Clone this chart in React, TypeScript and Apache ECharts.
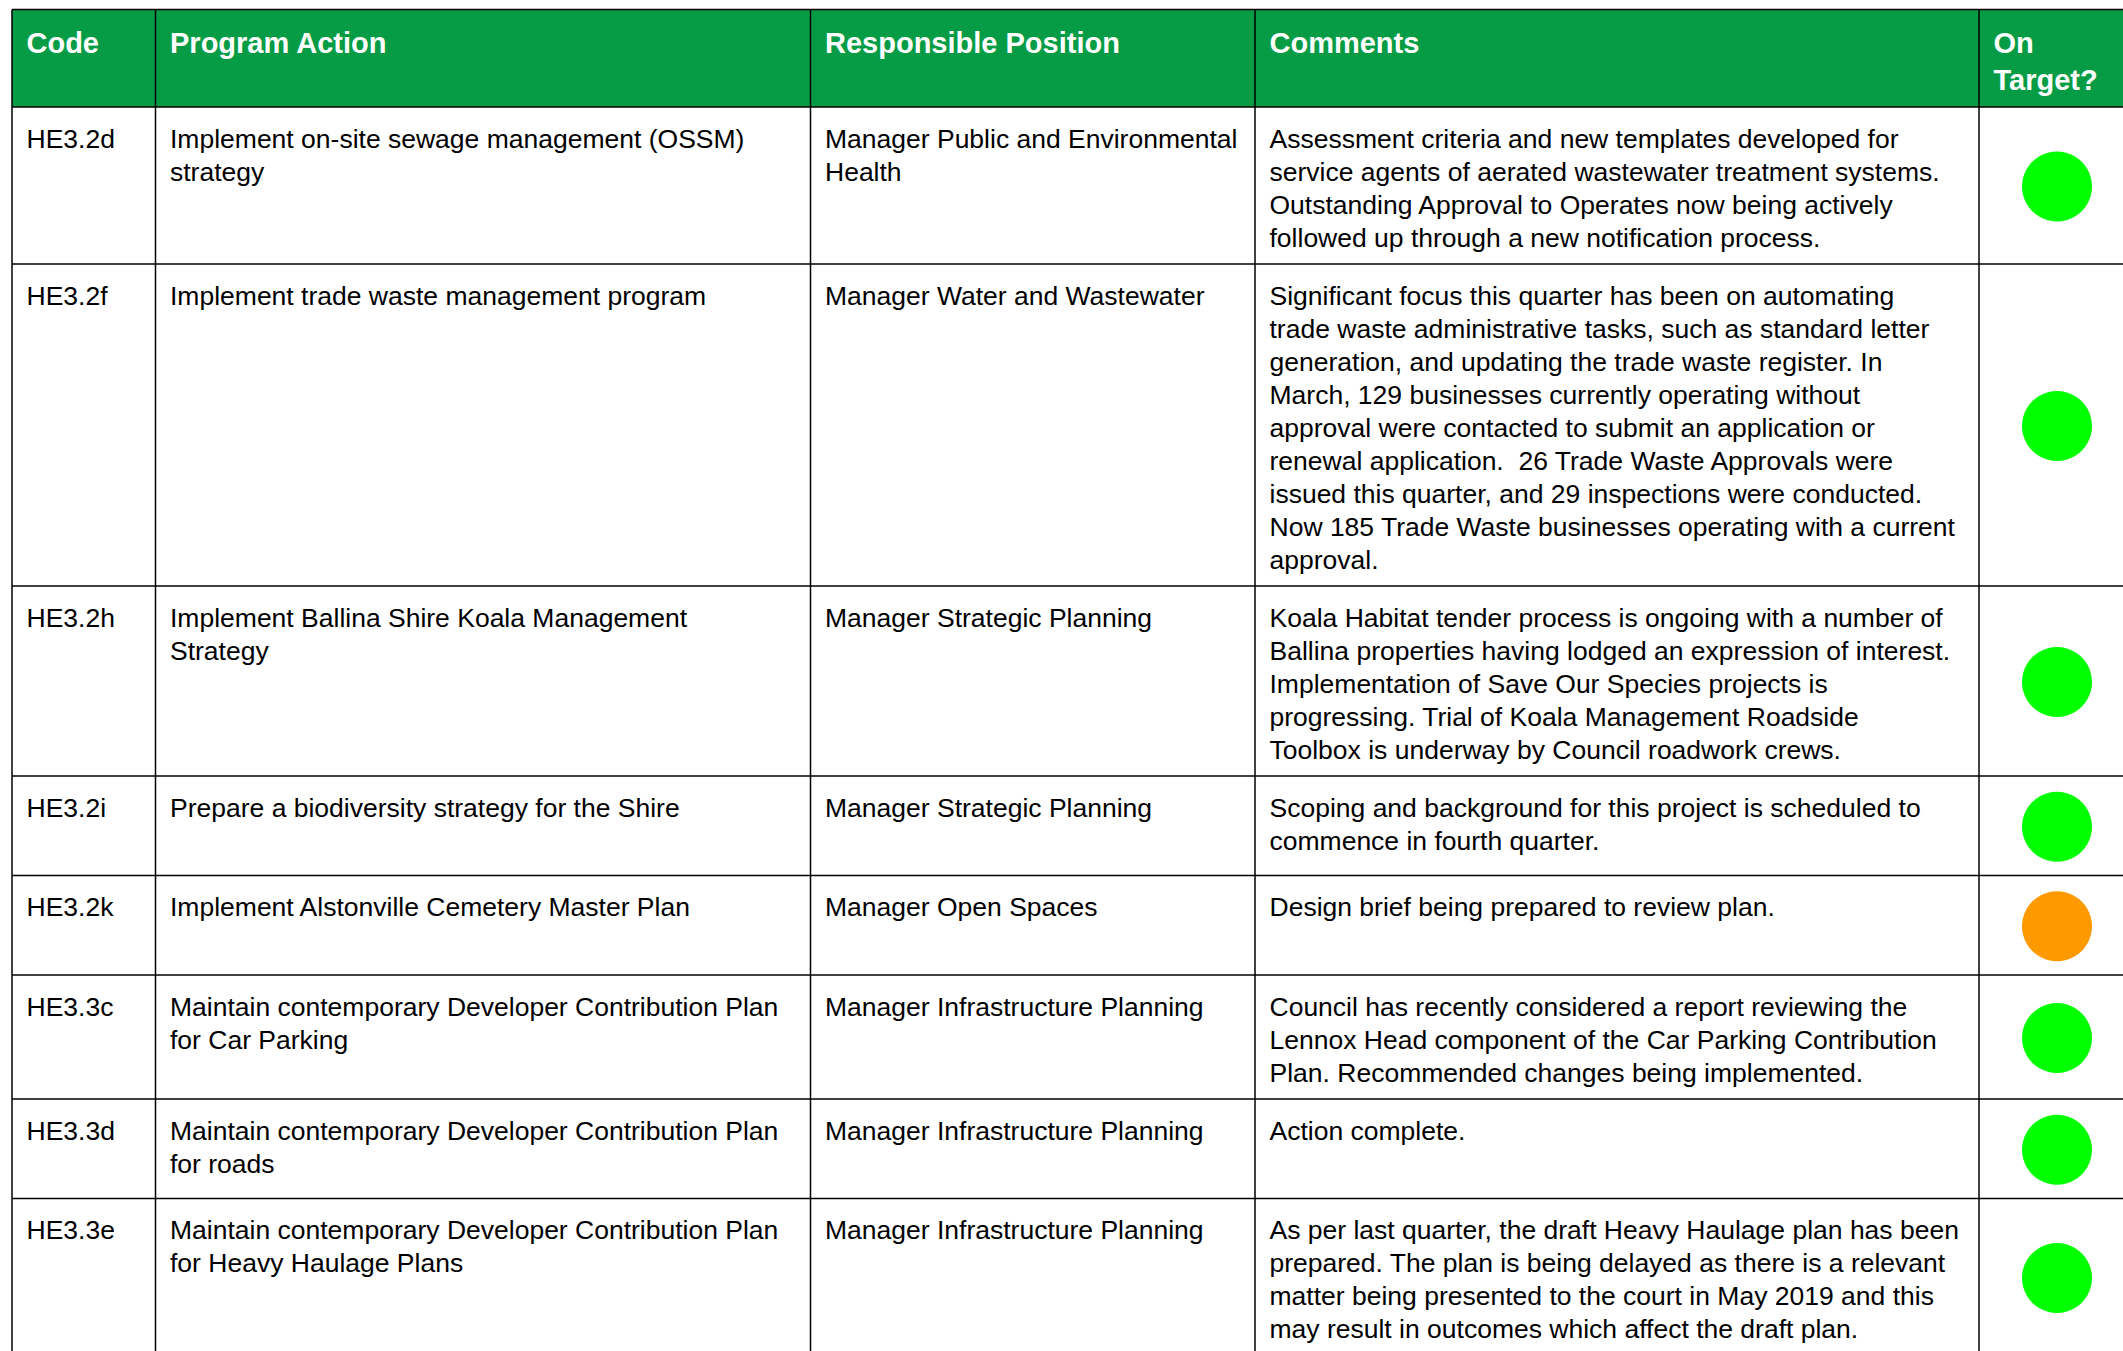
import React, { useEffect, useRef } from "react";
import * as echarts from "echarts";

const headers = ["Code", "Program Action", "Responsible Position", "Comments", "On\nTarget?"];

const codes = ["HE3.2d", "HE3.2f", "HE3.2h", "HE3.2i", "HE3.2k", "HE3.3c", "HE3.3d", "HE3.3e"];

const actions = [
  "Implement on-site sewage management (OSSM)\nstrategy",
  "Implement trade waste management program",
  "Implement Ballina Shire Koala Management\nStrategy",
  "Prepare a biodiversity strategy for the Shire",
  "Implement Alstonville Cemetery Master Plan",
  "Maintain contemporary Developer Contribution Plan\nfor Car Parking",
  "Maintain contemporary Developer Contribution Plan\nfor roads",
  "Maintain contemporary Developer Contribution Plan\nfor Heavy Haulage Plans",
];

const positions = [
  "Manager Public and Environmental\nHealth",
  "Manager Water and Wastewater",
  "Manager Strategic Planning",
  "Manager Strategic Planning",
  "Manager Open Spaces",
  "Manager Infrastructure Planning",
  "Manager Infrastructure Planning",
  "Manager Infrastructure Planning",
];

const comments = [
  "Assessment criteria and new templates developed for\nservice agents of aerated wastewater treatment systems.\nOutstanding Approval to Operates now being actively\nfollowed up through a new notification process.",
  "Significant focus this quarter has been on automating\ntrade waste administrative tasks, such as standard letter\ngeneration, and updating the trade waste register. In\nMarch, 129 businesses currently operating without\napproval were contacted to submit an application or\nrenewal application.  26 Trade Waste Approvals were\nissued this quarter, and 29 inspections were conducted.\nNow 185 Trade Waste businesses operating with a current\napproval.",
  "Koala Habitat tender process is ongoing with a number of\nBallina properties having lodged an expression of interest.\nImplementation of Save Our Species projects is\nprogressing. Trial of Koala Management Roadside\nToolbox is underway by Council roadwork crews.",
  "Scoping and background for this project is scheduled to\ncommence in fourth quarter.",
  "Design brief being prepared to review plan.",
  "Council has recently considered a report reviewing the\nLennox Head component of the Car Parking Contribution\nPlan. Recommended changes being implemented.",
  "Action complete.",
  "As per last quarter, the draft Heavy Haulage plan has been\nprepared. The plan is being delayed as there is a relevant\nmatter being presented to the court in May 2019 and this\nmay result in outcomes which affect the draft plan.",
];

const onTarget = ["yes", "yes", "yes", "yes", "partial", "yes", "yes", "yes"];

const STATUS_COLOR: Record<string, string> = { yes: "#00FF00", partial: "#FF9900" };
const HEADER_GREEN = "#069C45";
const FONT = "'Liberation Sans', Arial, Helvetica, sans-serif";

export default function App() {
  const ref = useRef<HTMLDivElement>(null);

  useEffect(() => {
    document.body.style.margin = "0";
    document.body.style.overflow = "hidden";
    if (!ref.current) return;
    const chart = echarts.init(ref.current, undefined, { renderer: "svg" });

    const colX = [12, 155.5, 810.5, 1255, 1979, 2160];
    const pad = 14.5;
    const headerTop = 9.5;
    const headerBottom = 107;
    const lineH = 33;
    const bodySize = 26.5;
    const headSize = 29;
    const headLineH = 37;

    // row bounds from content line counts
    const rowTops: number[] = [];
    const rowBottoms: number[] = [];
    let y = headerBottom;
    for (let i = 0; i < codes.length; i++) {
      const n = Math.max(
        actions[i].split("\n").length,
        positions[i].split("\n").length,
        comments[i].split("\n").length
      );
      const h = Math.max(n * lineH + 25, 99.5);
      rowTops.push(y);
      y += h;
      rowBottoms.push(y);
    }
    const tableBottom = y;
    const right = 2160;

    const elements: any[] = [];

    elements.push({
      type: "rect",
      shape: { x: colX[0], y: headerTop, width: right - colX[0], height: headerBottom - headerTop },
      style: { fill: HEADER_GREEN },
      z: 1,
    });

    headers.forEach((h, c) => {
      elements.push({
        type: "text",
        x: colX[c] + pad,
        y: headerTop + 15.3,
        style: {
          text: h,
          fill: "#ffffff",
          font: `bold ${headSize}px ${FONT}`,
          lineHeight: headLineH,
          align: "left",
          verticalAlign: "top",
        },
        z: 5,
      });
    });

    for (let i = 0; i < codes.length; i++) {
      const cells = [codes[i], actions[i], positions[i], comments[i]];
      cells.forEach((t, c) => {
        elements.push({
          type: "text",
          x: colX[c] + pad,
          y: rowTops[i] + 15,
          style: {
            text: t,
            fill: "#000000",
            font: `${bodySize}px ${FONT}`,
            lineHeight: lineH,
            align: "left",
            verticalAlign: "top",
          },
          z: 5,
        });
      });
      elements.push({
        type: "circle",
        shape: { cx: 2057, cy: (rowTops[i] + rowBottoms[i]) / 2 + 1, r: 35 },
        style: { fill: STATUS_COLOR[onTarget[i]] },
        z: 4,
      });
    }

    const hLines = [headerTop, headerBottom, ...rowBottoms];
    hLines.forEach((yy) => {
      elements.push({
        type: "line",
        shape: { x1: colX[0], y1: yy, x2: right, y2: yy },
        style: { stroke: "#000000", lineWidth: 1.5 },
        z: 6,
      });
    });
    colX.slice(0, 5).forEach((xx) => {
      elements.push({
        type: "line",
        shape: { x1: xx, y1: headerTop, x2: xx, y2: tableBottom },
        style: { stroke: "#000000", lineWidth: 1.5 },
        z: 6,
      });
    });

    chart.setOption({
      animation: false,
      backgroundColor: "#ffffff",
      graphic: { elements },
    });

    return () => chart.dispose();
  }, []);

  return <div ref={ref} style={{ width: 2123, height: 1351 }} />;
}
